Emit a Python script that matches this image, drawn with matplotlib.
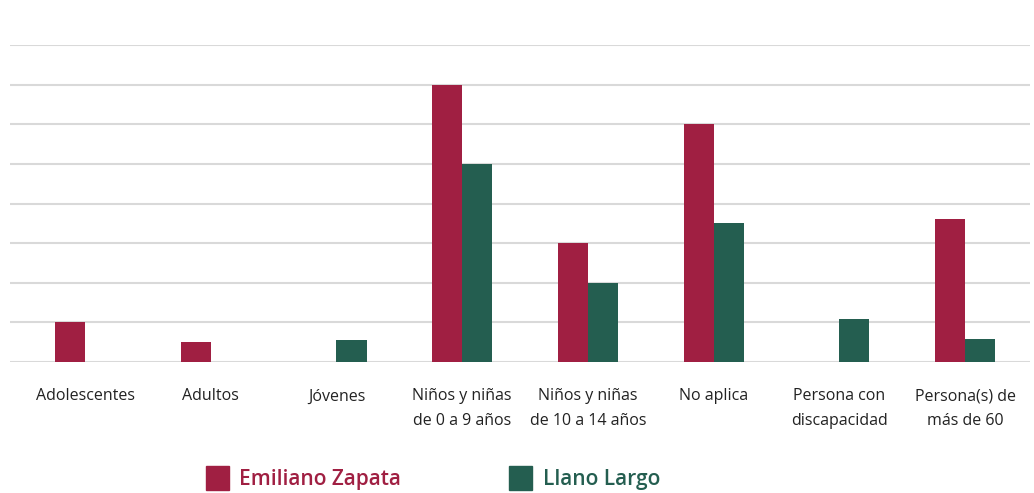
import matplotlib
matplotlib.use("Agg")
import matplotlib.pyplot as plt
import numpy as np
from matplotlib.patches import Patch

categorias = ["Adolescentes", "Adultos", "Jóvenes", "Niños y niñas\nde 0 a 9 años",
              "Niños y niñas\nde 10 a 14 años", "No aplica", "Persona con\ndiscapacidad",
              "Persona(s) de\nmás de 60"]
emiliano_zapata = [1, 0.5, 0, 7, 3, 6, 0, 3.6]
llano_largo = [0, 0, 0.55, 5, 2, 3.5, 1.08, 0.58]
series = ["Emiliano Zapata", "Llano Largo"]
colores = ["#A01F42", "#245E50"]

plt.rcParams['font.family'] = ['Open Sans', 'DejaVu Sans']

fig = plt.figure(figsize=(10.34, 4.93), dpi=100)
ax = fig.add_axes([10/1034, 131/493, 1020/1034, 317/493])

x = np.arange(len(categorias))
w = 0.239
ax.bar(x - w/2, emiliano_zapata, w, color=colores[0], zorder=3)
ax.bar(x + w/2, llano_largo, w, color=colores[1], zorder=3)

ax.set_xlim(-0.597, 7.517)
ax.set_ylim(0, 8)
ax.set_yticks(np.arange(0, 9, 1))
ax.yaxis.grid(True, color="#d9d9d9", linewidth=1.5, zorder=0)
ax.tick_params(axis='y', left=False, labelleft=False)
ax.tick_params(axis='x', length=0, pad=19)
ax.set_xticks(x)
ax.set_xticklabels(categorias, fontsize=11.5, color="#222222", linespacing=1.75)
for s in ax.spines.values():
    s.set_visible(False)

handles = [Patch(color=c) for c in colores]
leg = fig.legend(handles, series, loc='center', bbox_to_anchor=(433/1034, 1 - 478/493),
                 ncol=2, frameon=False, prop={'size': 15, 'weight': 'semibold'},
                 handlelength=1.1, handleheight=1.4, handletextpad=0.5, columnspacing=5.2)
for t, c in zip(leg.get_texts(), colores):
    t.set_color(c)

fig.savefig("out.png", dpi=100)
